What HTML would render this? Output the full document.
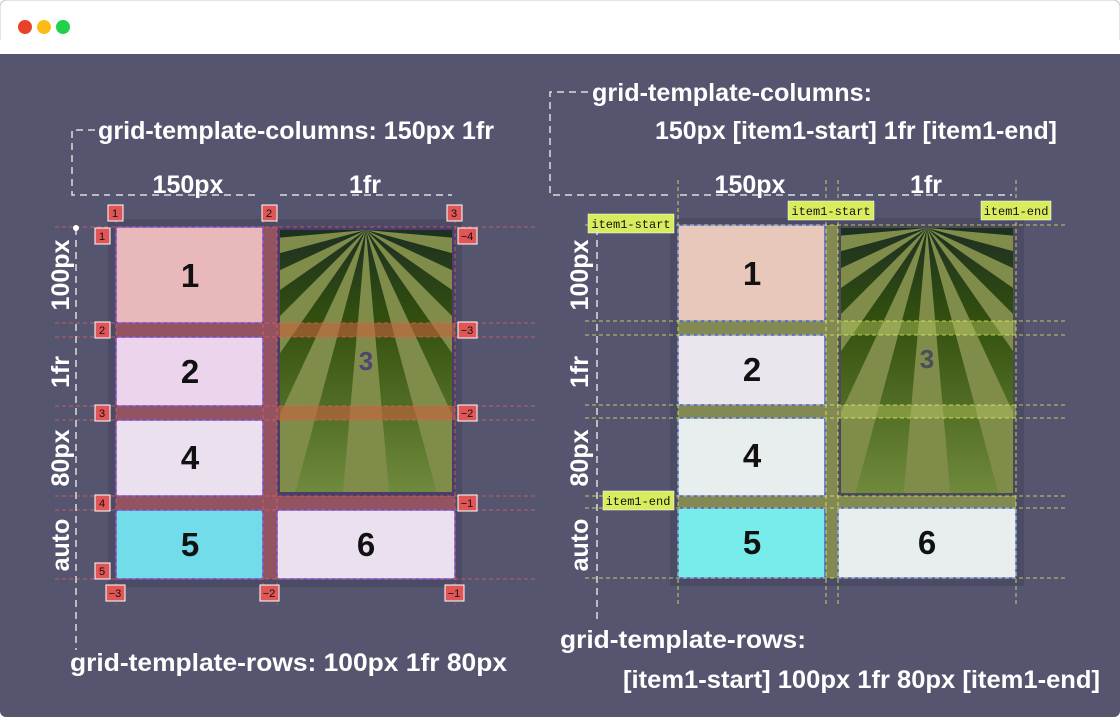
<!DOCTYPE html>
<html><head><meta charset="utf-8"><style>
html,body{margin:0;padding:0;background:#fff;}
svg{display:block;}
.h{font-family:"Liberation Sans",sans-serif;font-weight:bold;fill:#fff;}
.n{font-family:"Liberation Sans",sans-serif;font-size:33px;font-weight:bold;fill:#111;text-anchor:middle;}
.t{font-family:"Liberation Sans",sans-serif;font-size:11px;fill:#111;text-anchor:middle;}
.m{font-family:"Liberation Mono",monospace;font-size:12px;fill:#111;text-anchor:middle;}
</style></head><body>
<svg width="1120" height="717" viewBox="0 0 1120 717" xmlns="http://www.w3.org/2000/svg">
<defs>
<linearGradient id="g" x1="0" y1="0" x2="0" y2="1">
<stop offset="0" stop-color="#1d2f22"/><stop offset="0.35" stop-color="#33500e"/><stop offset="1" stop-color="#6f8a3c"/></linearGradient>
<g id="rays" fill="#7f8c4a">
<polygon points="0,0 -35,398 35,398"/>
<polygon points="0,0 104,386 169,362"/><polygon points="0,0 -104,386 -169,362"/>
<polygon points="0,0 229,328 283,283"/><polygon points="0,0 -229,328 -283,283"/>
<polygon points="0,0 328,229 362,169"/><polygon points="0,0 -328,229 -362,169"/>
<polygon points="0,0 386,104 398,35"/><polygon points="0,0 -386,104 -398,35"/>
</g>
<clipPath id="c1"><rect x="280" y="230" width="172" height="262"/></clipPath>
<clipPath id="c2"><rect x="841" y="228" width="172" height="265"/></clipPath>
</defs>
<rect x="0" y="0" width="1120" height="717" rx="6" fill="#555570"/>
<rect x="0.5" y="0.5" width="1119" height="53" rx="6" fill="#fff" stroke="#e4e4e4"/>
<rect x="0" y="40" width="1120" height="14" fill="#fff"/>
<circle cx="25" cy="27" r="7" fill="#e8432a"/><circle cx="44" cy="27" r="7" fill="#fbbc15"/><circle cx="63" cy="27" r="7" fill="#22d04a"/>

<!-- LEFT GRID -->
<rect x="108" y="219" width="354" height="368" fill="#4b4b66"/>
<g fill="#a05560" opacity="0.85">
<rect x="263" y="227" width="14" height="352"/>
<rect x="116" y="323" width="339" height="14"/><rect x="116" y="406" width="339" height="14"/><rect x="116" y="496" width="339" height="14"/>
</g>
<rect x="116" y="227" width="147" height="96" rx="2" fill="#e8b8bb" stroke="#5a4fd0" stroke-width="1.5"/>
<rect x="116" y="337" width="147" height="69" rx="2" fill="#ecd4ec" stroke="#5a4fd0" stroke-width="1.5"/>
<rect x="116" y="420" width="147" height="76" rx="2" fill="#ebe0ee" stroke="#5a4fd0" stroke-width="1.5"/>
<rect x="116" y="510" width="147" height="69" rx="2" fill="#72dcea" stroke="#5a4fd0" stroke-width="1.5"/>
<rect x="277" y="510" width="178" height="69" rx="2" fill="#ebe0ee" stroke="#5a4fd0" stroke-width="1.5"/>
<rect x="277" y="227" width="178" height="269" fill="#4a3d6a"/>
<rect x="280" y="230" width="172" height="262" fill="url(#g)"/>
<g clip-path="url(#c1)"><use href="#rays" transform="translate(366,230)"/></g>
<g fill="#c8603e" opacity="0.6"><rect x="277" y="323" width="178" height="14"/><rect x="277" y="406" width="178" height="14"/></g>
<text x="366" y="370" class="n" style="fill:#4d4670;font-size:26px">3</text>
<text x="190" y="287" class="n">1</text><text x="190" y="383" class="n">2</text><text x="190" y="469" class="n">4</text><text x="190" y="556" class="n">5</text><text x="366" y="556" class="n">6</text>
<g stroke="#e26060" stroke-width="0.8" stroke-dasharray="4,3" fill="none">
<path d="M55 227H535M55 323H535M55 337H535M55 406H535M55 420H535M55 496H535M55 510H535M55 579H535"/>
<path d="M116 205V605M263 205V605M277 205V605M455 205V605"/>
</g>
<g fill="#e05555" stroke="#fff" stroke-width="1">
<rect x="108" y="205" width="15" height="16"/><rect x="262" y="205" width="15" height="16"/><rect x="447" y="205" width="15" height="16"/>
<rect x="95" y="228" width="15" height="16"/><rect x="95" y="322" width="15" height="16"/><rect x="95" y="405" width="15" height="16"/><rect x="95" y="495" width="15" height="16"/><rect x="95" y="563" width="15" height="16"/>
<rect x="458" y="228" width="19" height="16"/><rect x="458" y="322" width="19" height="16"/><rect x="458" y="405" width="19" height="16"/><rect x="458" y="495" width="19" height="16"/>
<rect x="106" y="585" width="19" height="16"/><rect x="260" y="585" width="19" height="16"/><rect x="445" y="585" width="19" height="16"/>
</g>
<g class="t">
<text x="115" y="217">1</text><text x="269" y="217">2</text><text x="454" y="217">3</text>
<text x="102" y="240">1</text><text x="102" y="334">2</text><text x="102" y="417">3</text><text x="102" y="507">4</text><text x="102" y="575">5</text>
<text x="467" y="240">−4</text><text x="467" y="334">−3</text><text x="467" y="417">−2</text><text x="467" y="507">−1</text>
<text x="115" y="597">−3</text><text x="269" y="597">−2</text><text x="454" y="597">−1</text>
</g>
<g stroke="#ddd" stroke-width="1.5" stroke-dasharray="7,5" fill="none">
<path d="M95 130H72V195H110"/><path d="M116 195H260M280 195H452"/>
<path d="M76 228V650"/>
</g>
<circle cx="76" cy="228" r="3" fill="#fff"/>
<text x="98" y="139" class="h" font-size="25" textLength="396" lengthAdjust="spacingAndGlyphs">grid-template-columns: 150px 1fr</text>
<text x="188" y="193" class="h" font-size="25" text-anchor="middle">150px</text>
<text x="365" y="193" class="h" font-size="25" text-anchor="middle">1fr</text>
<g class="h" font-size="25" text-anchor="middle">
<text transform="translate(69,275) rotate(-90)">100px</text>
<text transform="translate(69,372) rotate(-90)">1fr</text>
<text transform="translate(69,458) rotate(-90)">80px</text>
<text transform="translate(69,545) rotate(-90)">auto</text>
</g>
<text x="70" y="671" class="h" font-size="25" textLength="437" lengthAdjust="spacingAndGlyphs">grid-template-rows: 100px 1fr 80px</text>

<!-- RIGHT GRID -->
<rect x="670" y="218" width="354" height="368" fill="#4b4b66"/>
<g fill="#8a9050" opacity="0.9">
<rect x="825" y="225" width="13" height="353"/>
<rect x="678" y="321" width="338" height="14"/><rect x="678" y="405" width="338" height="13"/><rect x="678" y="496" width="338" height="12"/>
</g>
<rect x="678" y="225" width="147" height="96" rx="2" fill="#e8c8bb" stroke="#4a5fd0" stroke-width="1.5"/>
<rect x="678" y="335" width="147" height="70" rx="2" fill="#ebe6ee" stroke="#4a5fd0" stroke-width="1.5"/>
<rect x="678" y="418" width="147" height="78" rx="2" fill="#e8eeee" stroke="#4a5fd0" stroke-width="1.5"/>
<rect x="678" y="508" width="147" height="70" rx="2" fill="#78ecea" stroke="#4a5fd0" stroke-width="1.5"/>
<rect x="838" y="508" width="178" height="70" rx="2" fill="#e8eeee" stroke="#4a5fd0" stroke-width="1.5"/>
<rect x="838" y="225" width="178" height="271" fill="#4a4a5a"/>
<rect x="841" y="228" width="172" height="265" fill="url(#g)"/>
<g clip-path="url(#c2)"><use href="#rays" transform="translate(927,228)"/></g>
<g fill="#b8c860" opacity="0.45"><rect x="838" y="321" width="178" height="14"/><rect x="838" y="405" width="178" height="13"/></g>
<text x="927" y="368" class="n" style="fill:#4a4e5a;font-size:26px">3</text>
<text x="752" y="285" class="n">1</text><text x="752" y="381" class="n">2</text><text x="752" y="467" class="n">4</text><text x="752" y="554" class="n">5</text><text x="927" y="554" class="n">6</text>
<g stroke="#e8f060" stroke-width="0.8" stroke-dasharray="4,3" fill="none">
<path d="M585 225H1065M585 321H1065M585 335H1065M585 405H1065M585 418H1065M585 496H1065M585 508H1065M585 578H1065"/>
<path d="M678 180V605M826 180V605M838 180V605M1016 180V605"/>
</g>
<g fill="#d9ec5e" stroke="#fff" stroke-width="0.5">
<rect x="588" y="214" width="86" height="19"/><rect x="788" y="201" width="86" height="19"/><rect x="981" y="201" width="70" height="19"/><rect x="603" y="491" width="71" height="19"/>
</g>
<g class="m">
<text x="631" y="228">item1-start</text><text x="831" y="215">item1-start</text><text x="1016" y="215">item1-end</text><text x="638" y="505">item1-end</text>
</g>
<g stroke="#ddd" stroke-width="1.5" stroke-dasharray="7,5" fill="none">
<path d="M588 92H550V195H672"/><path d="M680 195H822M842 195H1012"/>
<path d="M597 228V620"/>
</g>
<text x="592" y="101" class="h" font-size="25" textLength="280" lengthAdjust="spacingAndGlyphs">grid-template-columns:</text>
<text x="655" y="139" class="h" font-size="25" textLength="402" lengthAdjust="spacingAndGlyphs">150px [item1-start] 1fr [item1-end]</text>
<text x="750" y="193" class="h" font-size="25" text-anchor="middle">150px</text>
<text x="926" y="193" class="h" font-size="25" text-anchor="middle">1fr</text>
<g class="h" font-size="25" text-anchor="middle">
<text transform="translate(588,275) rotate(-90)">100px</text>
<text transform="translate(588,372) rotate(-90)">1fr</text>
<text transform="translate(588,458) rotate(-90)">80px</text>
<text transform="translate(588,545) rotate(-90)">auto</text>
</g>
<text x="560" y="648" class="h" font-size="25" textLength="246" lengthAdjust="spacingAndGlyphs">grid-template-rows:</text>
<text x="623" y="688" class="h" font-size="25" textLength="477" lengthAdjust="spacingAndGlyphs">[item1-start] 100px 1fr 80px [item1-end]</text>
</svg>
</body></html>
